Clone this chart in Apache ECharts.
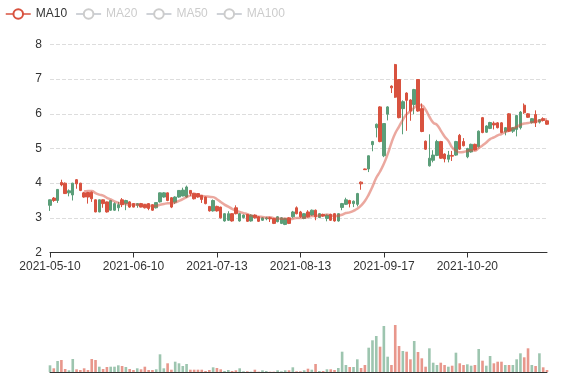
<!DOCTYPE html>
<html><head><meta charset="utf-8">
<script src="https://cdn.jsdelivr.net/npm/echarts@6/dist/echarts.min.js"></script>
<style>html,body{margin:0;padding:0;background:#fff}#main{width:577px;height:380px}</style>
</head><body><div id="main"></div>
<script>
const dates = [
'2021-05-10','2021-05-11','2021-05-12','2021-05-13','2021-05-14','2021-05-17','2021-05-18','2021-05-19','2021-05-20','2021-05-21',
'2021-05-24','2021-05-25','2021-05-26','2021-05-27','2021-05-28','2021-06-01','2021-06-02','2021-06-03','2021-06-04','2021-06-07',
'2021-06-08','2021-06-09','2021-06-10','2021-06-11','2021-06-14','2021-06-15','2021-06-16','2021-06-17','2021-06-18','2021-06-21',
'2021-06-22','2021-06-23','2021-06-24','2021-06-25','2021-06-28','2021-06-29','2021-06-30','2021-07-01','2021-07-02','2021-07-06',
'2021-07-07','2021-07-08','2021-07-09','2021-07-12','2021-07-13','2021-07-14','2021-07-15','2021-07-16','2021-07-19','2021-07-20',
'2021-07-21','2021-07-22','2021-07-23','2021-07-26','2021-07-27','2021-07-28','2021-07-29','2021-08-02','2021-08-03','2021-08-04',
'2021-08-05','2021-08-06','2021-08-09','2021-08-10','2021-08-11','2021-08-12','2021-08-13','2021-08-16','2021-08-17','2021-08-18',
'2021-08-19','2021-08-20','2021-08-23','2021-08-24','2021-08-25','2021-08-30','2021-08-31','2021-09-01','2021-09-02','2021-09-03',
'2021-09-07','2021-09-08','2021-09-09','2021-09-10','2021-09-13','2021-09-14','2021-09-15','2021-09-16','2021-09-17','2021-09-20',
'2021-09-21','2021-09-22','2021-09-23','2021-09-24','2021-09-27','2021-09-28','2021-09-29','2021-09-30','2021-10-04','2021-10-05',
'2021-10-06','2021-10-07','2021-10-08','2021-10-11','2021-10-12','2021-10-13','2021-10-14','2021-10-15','2021-10-18','2021-10-19',
'2021-10-20','2021-10-21','2021-10-22','2021-10-25','2021-10-26','2021-10-27','2021-10-28','2021-10-29','2021-11-01','2021-11-02',
'2021-11-03','2021-11-04','2021-11-05','2021-11-08','2021-11-09','2021-11-10','2021-11-11','2021-11-12','2021-11-15','2021-11-16',
'2021-11-17','2021-11-18'];

const opens = [
3.36,3.57,3.50,4.02,4.00,3.72,3.66,4.10,4.00,3.72,
3.73,3.74,3.52,3.17,3.52,3.46,3.22,3.22,3.29,3.52,
3.41,3.46,3.41,3.36,3.41,3.38,3.41,3.38,3.29,3.46,
3.60,3.72,3.58,3.45,3.60,3.63,3.60,3.79,3.71,3.70,
3.65,3.60,3.33,3.20,3.33,3.31,2.91,2.93,3.12,3.29,
2.91,3.01,3.10,2.91,3.08,3.03,2.93,2.97,3.00,2.98,2.89,
2.84,2.81,3.00,3.03,3.29,3.17,2.98,3.17,3.08,3.22,
3.01,3.10,2.98,3.10,3.12,2.91,3.30,3.39,3.50,3.41,
3.39,4.03,4.41,4.41,5.11,5.60,6.20,4.79,5.99,6.80,
7.42,6.99,6.15,6.60,6.40,6.27,6.99,6.15,5.21,4.50,
4.66,4.80,5.20,4.84,4.69,4.80,4.81,5.38,5.20,4.76,
4.90,5.12,5.05,5.89,5.47,5.58,5.73,5.74,5.74,5.48,
6.00,5.50,5.55,5.60,6.25,6.00,5.75,5.98,5.76,5.86,
5.80];
const closes = [
3.52,3.50,3.82,3.95,3.70,3.78,4.00,3.98,3.79,3.60,
3.60,3.55,3.17,3.52,3.41,3.17,3.50,3.41,3.38,3.38,
3.50,3.31,3.31,3.41,3.31,3.29,3.27,3.22,3.44,3.72,
3.72,3.50,3.31,3.60,3.79,3.80,3.89,3.70,3.55,3.60,
3.53,3.41,3.20,3.50,3.20,3.00,3.12,3.12,2.91,3.12,
3.12,3.08,2.90,3.08,3.00,2.90,3.00,3.00,2.97,2.84,3.03,
3.00,2.98,2.84,3.17,3.12,3.03,3.12,3.03,3.22,3.03,
3.12,3.05,3.08,2.93,2.91,3.12,3.41,3.52,3.41,3.48,
3.70,3.98,4.39,4.79,5.20,5.70,5.20,5.72,6.20,6.75,
6.48,5.89,6.35,6.39,6.08,6.70,6.08,5.49,4.98,4.72,
4.81,5.20,4.72,4.70,4.81,4.78,5.20,4.98,5.08,5.00,
5.12,4.96,5.50,5.46,5.65,5.75,5.68,5.60,5.46,5.60,
5.50,5.60,5.95,6.05,6.03,5.90,5.86,5.74,5.83,5.81,
5.70];
const lows = [
3.20,3.46,3.43,3.91,3.69,3.62,3.50,3.84,3.77,3.58,
3.41,3.46,3.16,3.16,3.29,3.15,3.20,3.20,3.19,3.31,
3.22,3.29,3.30,3.29,3.30,3.27,3.22,3.20,3.27,3.44,
3.58,3.48,3.28,3.40,3.58,3.62,3.58,3.63,3.53,3.58,
3.43,3.39,3.18,3.18,3.18,2.98,2.89,2.91,2.89,3.10,
2.89,2.98,2.88,2.89,2.98,2.88,2.91,2.93,2.88,2.82,2.87,
2.82,2.79,2.82,3.00,3.10,3.00,2.96,3.01,3.06,2.93,
2.99,3.03,2.90,2.91,2.89,2.89,3.22,3.37,3.30,3.31,
3.33,3.81,4.38,4.32,4.92,5.32,5.18,4.75,5.81,6.60,
6.46,5.87,5.41,5.51,5.80,5.99,6.06,5.47,4.96,4.48,
4.60,4.78,4.70,4.60,4.60,4.64,4.79,4.96,5.06,4.72,
4.88,4.94,5.03,5.44,5.45,5.56,5.55,5.58,5.44,5.38,
5.48,5.45,5.35,5.55,6.00,5.88,5.72,5.62,5.72,5.78,
5.68];
const highs = [
3.53,3.60,3.83,4.10,4.02,3.82,4.01,4.12,4.01,3.75,
3.75,3.76,3.53,3.53,3.53,3.47,3.52,3.45,3.46,3.57,
3.52,3.48,3.42,3.42,3.43,3.40,3.42,3.39,3.45,3.73,
3.74,3.73,3.60,3.62,3.80,3.87,3.93,3.80,3.72,3.71,
3.66,3.61,3.34,3.53,3.35,3.32,3.13,3.19,3.13,3.36,
3.13,3.10,3.11,3.10,3.10,3.05,3.02,3.03,3.03,3.00,3.05,
3.02,3.00,3.02,3.20,3.33,3.20,3.14,3.22,3.24,3.24,
3.14,3.12,3.10,3.12,3.14,3.13,3.43,3.58,3.52,3.50,
3.72,4.05,4.42,4.80,5.22,5.72,6.22,5.73,6.22,6.82,
7.44,7.00,6.39,6.62,6.42,6.72,7.00,6.30,5.23,5.41,
4.95,5.25,5.22,4.86,4.93,4.93,5.22,5.42,5.30,5.02,
5.14,5.14,5.52,5.91,5.67,5.77,5.78,5.76,5.76,5.62,
6.02,5.62,5.97,6.08,6.30,6.02,5.88,6.10,5.85,5.90,
5.82];
const volumes = [
6.7,3.7,11,12,3,1.7,13,2.7,2,3.7,
2,13,12,5.3,3,5,5.3,5.3,6.7,6,
5,3,2,3.7,2.7,5.3,2,2,2.7,17.7,
3.7,8.7,2.3,10.3,8.7,6,8,2.3,2.3,2.3,
2.3,1,2,4.7,4,2.7,1,2,1,1.7,
3.7,0.7,0.7,0.3,2.3,0.3,1.7,1.0,0.3,0.3,1.7,
0.7,1.7,1.7,4.7,0.7,0.7,1.7,3.3,2.3,8,
1,1,2.7,2.7,2,4,20.3,7,5,5,
12.7,4,7,24.3,31.7,36,25.3,46,15.3,7,
47,26,21,20.3,12.7,31,20,13.7,5.3,23.7,
9.3,7,9.3,7,5.3,6.3,19.3,8.7,7,7.7,
6.3,7,23,11.3,6.3,16,8.7,10.3,10.3,7,
7,7,12.7,18.7,14.7,23.7,7,6,18.7,4.7,
2];

const legendNames = ['MA10','MA20','MA50','MA100'];
const maDays = [10,20,50,100];
const yMin = 2, yMax = 8, yStep = 1;

const UP = '#5b9e79', DOWN = '#d8523f';
const maColors = ['#d8523f','#5470c6','#91cc75','#fac858'];

function calculateMA(n){
  const out = [];
  for (let i = 0; i < closes.length; i++){
    if (i < n - 1){ out.push('-'); continue; }
    let s = 0;
    for (let j = 0; j < n; j++) s += closes[i - j];
    out.push(+(s / n).toFixed(3));
  }
  return out;
}

const kData = opens.map((o, i) => [o, closes[i], lows[i], highs[i]]);
const volData = volumes.map((v, i) => ({
  value: v,
  itemStyle: { color: closes[i] >= opens[i] ? UP : DOWN }
}));

const chart = echarts.init(document.getElementById('main'));
const option = {
  animation: false,
  legend: {
    left: 0, top: 3,
    data: legendNames,
    selected: { MA20: false, MA50: false, MA100: false },
    textStyle: { color: '#333', fontSize: 12 },
    inactiveColor: '#ccc',
    itemWidth: 25, itemHeight: 12,
    lineStyle: { width: 1.5, opacity: 1 },
    itemStyle: { borderWidth: 1.5, opacity: 1 }
  },
  grid: [
    { left: 50, right: 30, top: 44.5, height: 208 },
    { left: 50, right: 30, top: 312, height: 60 }
  ],
  xAxis: [
    {
      type: 'category', data: dates, boundaryGap: false,
      axisLine: { lineStyle: { color: '#333' } },
      axisTick: { show: true, interval: 21, lineStyle: { color: '#333' } },
      axisLabel: { interval: 21, color: '#333', fontSize: 12 },
      splitLine: { show: false }
    },
    {
      type: 'category', gridIndex: 1, data: dates, boundaryGap: false,
      axisLine: { lineStyle: { color: '#333' } },
      axisTick: { show: false }, axisLabel: { show: false }, splitLine: { show: false }
    }
  ],
  yAxis: [
    {
      type: 'value', min: yMin, max: yMax, interval: yStep,
      axisLine: { show: false }, axisTick: { show: false },
      axisLabel: { color: '#333', fontSize: 12 },
      splitLine: { show: true, lineStyle: { type: 'dashed', color: '#ddd' } }
    },
    {
      type: 'value', gridIndex: 1, min: 0, max: 60,
      axisLine: { show: false }, axisTick: { show: false },
      axisLabel: { show: false }, splitLine: { show: false }
    }
  ],
  series: [
    {
      name: 'K', type: 'candlestick', data: kData, barWidth: '78%',
      itemStyle: { color: UP, color0: DOWN, borderColor: UP, borderColor0: DOWN, borderWidth: 1 }
    }
  ].concat(legendNames.map((nm, k) => ({
    name: nm, type: 'line', data: calculateMA(maDays[k]), smooth: true,
    showSymbol: false, symbol: 'emptyCircle',
    itemStyle: { color: maColors[k] },
    lineStyle: { width: 2.5, opacity: 0.5, color: maColors[k] }
  }))).concat([
    {
      name: 'Volume', type: 'bar', xAxisIndex: 1, yAxisIndex: 1,
      data: volData, itemStyle: { opacity: 0.6 }
    }
  ])
};
chart.setOption(option);
</script>
</body></html>
